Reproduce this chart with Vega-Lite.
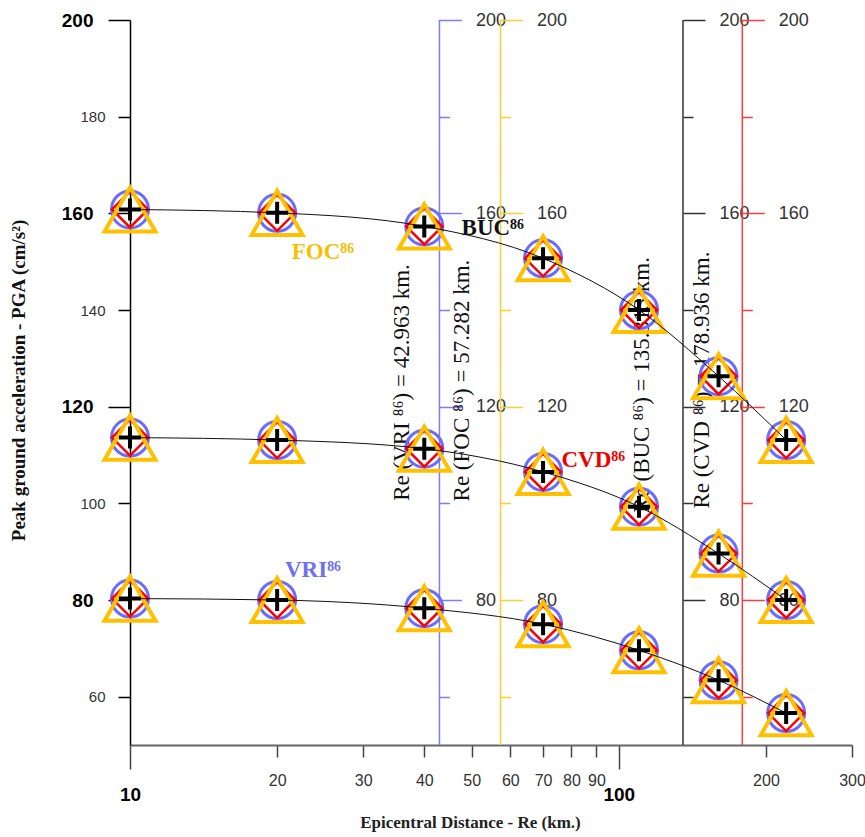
{
  "$schema": "https://vega.github.io/schema/vega-lite/v6.json",
  "width": 722,
  "height": 725,
  "autosize": {"type": "none"},
  "padding": {"left": 130, "top": 20, "right": 13, "bottom": 92},
  "background": "white",
  "config": {
    "view": {"stroke": null},
    "axis": {"grid": false, "labelFont": "Liberation Sans", "titleFont": "Liberation Serif"}
  },
  "datasets": {
    "pts": [
      {"curve": "A", "re": 10, "pga": 160.8},
      {"curve": "A", "re": 20, "pga": 160.1},
      {"curve": "A", "re": 40, "pga": 157.3},
      {"curve": "A", "re": 70, "pga": 150.7},
      {"curve": "A", "re": 110, "pga": 140.0},
      {"curve": "A", "re": 160, "pga": 126.3},
      {"curve": "A", "re": 220, "pga": 113.1},
      {"curve": "B", "re": 10, "pga": 113.6},
      {"curve": "B", "re": 20, "pga": 113.1},
      {"curve": "B", "re": 40, "pga": 111.3},
      {"curve": "B", "re": 70, "pga": 106.5},
      {"curve": "B", "re": 110, "pga": 99.3},
      {"curve": "B", "re": 160, "pga": 89.6},
      {"curve": "B", "re": 220, "pga": 80.0},
      {"curve": "C", "re": 10, "pga": 80.3},
      {"curve": "C", "re": 20, "pga": 80.0},
      {"curve": "C", "re": 40, "pga": 78.3},
      {"curve": "C", "re": 70, "pga": 75.0},
      {"curve": "C", "re": 110, "pga": 69.6},
      {"curve": "C", "re": 160, "pga": 63.4},
      {"curve": "C", "re": 220, "pga": 56.6}
    ],
    "stations": [
      {"station": "VRI", "re": 42.963},
      {"station": "FOC", "re": 57.282},
      {"station": "BUC", "re": 135.313},
      {"station": "CVD", "re": 178.936}
    ],
    "notes": [
      {"label": "Re (VRI ⁸⁶) = 42.963 km.", "re": 36.0, "pga": 125.0},
      {"label": "Re (FOC ⁸⁶) = 57.282 km.", "re": 47.75, "pga": 125.4},
      {"label": "Re (BUC ⁸⁶) = 135.313 km.", "re": 111.4, "pga": 124.5},
      {"label": "Re (CVD ⁸⁶) = 178.936 km.", "re": 147.8, "pga": 125.5}
    ],
    "tags": [
      {"label": "FOC⁸⁶", "station": "FOC", "re": 21.42, "pga": 152.1},
      {"label": "BUC⁸⁶", "station": "BUC", "re": 47.68, "pga": 157.0},
      {"label": "CVD⁸⁶", "station": "CVD", "re": 76.35, "pga": 109.0},
      {"label": "VRI⁸⁶", "station": "VRI", "re": 20.75, "pga": 86.2}
    ]
  },
  "layer": [
    {
      "data": {"name": "stations"},
      "transform": [{"filter": "datum.station == 'VRI'"}],
      "mark": {"type": "rule", "stroke": "#7b7bff", "strokeWidth": 1.5},
      "encoding": {
        "x": {"field": "re", "type": "quantitative", "scale": {"type": "log", "domain": [10, 300], "nice": false}, "axis": null},
        "y": {"datum": 50, "type": "quantitative", "scale": {"domain": [50, 200], "nice": false, "zero": false},
          "axis": {"orient": "right", "offset": -412.55, "title": null, "domain": false, "values": [60, 80, 100, 120, 140, 160, 180, 200],
            "tickColor": "#7b7bff", "tickWidth": 1.5,
            "tickSize": {"condition": {"test": "datum.value % 40 == 0", "value": 22}, "value": 10},
            "labelExpr": "datum.value % 40 == 0 ? datum.label : ''", "labelFontSize": 18, "labelColor": "#333", "labelPadding": 14}},
        "y2": {"datum": 200}
      }
    },
    {
      "data": {"name": "stations"},
      "transform": [{"filter": "datum.station == 'FOC'"}],
      "mark": {"type": "rule", "stroke": "#ffcc33", "strokeWidth": 1.5},
      "encoding": {
        "x": {"field": "re", "type": "quantitative", "scale": {"type": "log", "domain": [10, 300], "nice": false}, "axis": null},
        "y": {"datum": 50, "type": "quantitative", "scale": {"domain": [50, 200], "nice": false, "zero": false},
          "axis": {"orient": "right", "offset": -351.5, "title": null, "domain": false, "values": [60, 80, 100, 120, 140, 160, 180, 200],
            "tickColor": "#ffcc33", "tickWidth": 1.5,
            "tickSize": {"condition": {"test": "datum.value % 40 == 0", "value": 22}, "value": 10},
            "labelExpr": "datum.value % 40 == 0 ? datum.label : ''", "labelFontSize": 18, "labelColor": "#333", "labelPadding": 14}},
        "y2": {"datum": 200}
      }
    },
    {
      "data": {"name": "stations"},
      "transform": [{"filter": "datum.station == 'BUC'"}],
      "mark": {"type": "rule", "stroke": "#333333", "strokeWidth": 1.5},
      "encoding": {
        "x": {"field": "re", "type": "quantitative", "scale": {"type": "log", "domain": [10, 300], "nice": false}, "axis": null},
        "y": {"datum": 50, "type": "quantitative", "scale": {"domain": [50, 200], "nice": false, "zero": false},
          "axis": {"orient": "right", "offset": -169.0, "title": null, "domain": false, "values": [60, 80, 100, 120, 140, 160, 180, 200],
            "tickColor": "#333333", "tickWidth": 1.5,
            "tickSize": {"condition": {"test": "datum.value % 40 == 0", "value": 22}, "value": 10},
            "labelExpr": "datum.value % 40 == 0 ? datum.label : ''", "labelFontSize": 18, "labelColor": "#333", "labelPadding": 14}},
        "y2": {"datum": 200}
      }
    },
    {
      "data": {"name": "stations"},
      "transform": [{"filter": "datum.station == 'CVD'"}],
      "mark": {"type": "rule", "stroke": "#ff3b3b", "strokeWidth": 1.5},
      "encoding": {
        "x": {"field": "re", "type": "quantitative", "scale": {"type": "log", "domain": [10, 300], "nice": false}, "axis": null},
        "y": {"datum": 50, "type": "quantitative", "scale": {"domain": [50, 200], "nice": false, "zero": false},
          "axis": {"orient": "right", "offset": -109.7, "title": null, "domain": false, "values": [60, 80, 100, 120, 140, 160, 180, 200],
            "tickColor": "#ff3b3b", "tickWidth": 1.5,
            "tickSize": {"condition": {"test": "datum.value % 40 == 0", "value": 22}, "value": 10},
            "labelExpr": "datum.value % 40 == 0 ? datum.label : ''", "labelFontSize": 18, "labelColor": "#333", "labelPadding": 14}},
        "y2": {"datum": 200}
      }
    },
    {
      "data": {"name": "notes"},
      "mark": {"type": "text", "angle": 270, "align": "center", "baseline": "middle", "font": "Liberation Serif", "fontSize": 23, "color": "#111"},
      "encoding": {
        "x": {"field": "re", "type": "quantitative", "scale": {"type": "log", "domain": [10, 300], "nice": false}, "axis": null},
        "y": {"field": "pga", "type": "quantitative", "scale": {"domain": [50, 200], "nice": false, "zero": false}, "axis": null},
        "text": {"field": "label"}
      }
    },
    {
      "data": {"name": "pts"},
      "mark": {"type": "point", "shape": "circle", "filled": false, "size": 1369, "stroke": "#6b6bff", "strokeWidth": 3, "opacity": 1},
      "encoding": {
        "x": {"field": "re", "type": "quantitative", "scale": {"type": "log", "domain": [10, 300], "nice": false}, "axis": null},
        "y": {"field": "pga", "type": "quantitative", "scale": {"domain": [50, 200], "nice": false, "zero": false}, "axis": null}
      }
    },
    {
      "data": {"name": "pts"},
      "mark": {"type": "point", "shape": "diamond", "filled": false, "size": 1296, "stroke": "#ff0000", "strokeWidth": 2.5, "opacity": 1},
      "encoding": {
        "x": {"field": "re", "type": "quantitative", "scale": {"type": "log", "domain": [10, 300], "nice": false}, "axis": null},
        "y": {"field": "pga", "type": "quantitative", "scale": {"domain": [50, 200], "nice": false, "zero": false}, "axis": null}
      }
    },
    {
      "data": {"name": "pts"},
      "mark": {"type": "point", "shape": "triangle-up", "filled": false, "size": 2601, "stroke": "#ffc000", "strokeWidth": 4, "opacity": 1},
      "encoding": {
        "x": {"field": "re", "type": "quantitative", "scale": {"type": "log", "domain": [10, 300], "nice": false}, "axis": null},
        "y": {"field": "pga", "type": "quantitative", "scale": {"domain": [50, 200], "nice": false, "zero": false}, "axis": null}
      }
    },
    {
      "data": {"name": "pts"},
      "mark": {"type": "line", "color": "#111", "strokeWidth": 1, "interpolate": "monotone"},
      "encoding": {
        "detail": {"field": "curve"},
        "x": {"field": "re", "type": "quantitative", "scale": {"type": "log", "domain": [10, 300], "nice": false},
          "axis": {
            "values": [10, 20, 30, 40, 50, 60, 70, 80, 90, 100, 200, 300],
            "format": "d",
            "title": "Epicentral Distance - Re (km.)",
            "labelFlush": false, "labelOverlap": false,
            "labelFontSize": {"condition": {"test": "datum.value == 10 || datum.value == 100", "value": 19}, "value": 16},
            "labelFontWeight": {"condition": {"test": "datum.value == 10 || datum.value == 100", "value": "bold"}, "value": "normal"},
            "labelColor": {"condition": {"test": "datum.value == 10 || datum.value == 100", "value": "#000"}, "value": "#333"},
            "tickSize": {"condition": {"test": "datum.value == 10 || datum.value == 100", "value": 24}, "value": 12},
            "labelPadding": {"condition": {"test": "datum.value == 10 || datum.value == 100", "value": 16}, "value": 15},
            "domainColor": "#666", "domainWidth": 2, "tickColor": "#444", "tickWidth": 1.5,
            "titleFont": "Liberation Serif", "titleFontSize": 17, "titleFontWeight": "bold", "titleColor": "#222",
            "titleX": 340, "titleY": 77, "titleBaseline": "middle", "titleAlign": "center"
          }},
        "y": {"field": "pga", "type": "quantitative", "scale": {"domain": [50, 200], "nice": false, "zero": false},
          "axis": {
            "values": [60, 80, 100, 120, 140, 160, 180, 200],
            "title": "Peak ground acceleration - PGA (cm/s²)",
            "labelFontSize": {"condition": {"test": "datum.value % 40 == 0", "value": 19}, "value": 15},
            "labelFontWeight": {"condition": {"test": "datum.value % 40 == 0", "value": "bold"}, "value": "normal"},
            "labelColor": {"condition": {"test": "datum.value % 40 == 0", "value": "#000"}, "value": "#333"},
            "tickSize": {"condition": {"test": "datum.value % 40 == 0", "value": 22}, "value": 12},
            "labelPadding": {"condition": {"test": "datum.value % 40 == 0", "value": 15}, "value": 13},
            "domainColor": "#000", "domainWidth": 1.5, "tickColor": "#000", "tickWidth": 1.5,
            "titleFont": "Liberation Serif", "titleFontSize": 19, "titleFontWeight": "bold", "titleColor": "#111",
            "titleX": -112, "titleY": 360, "titleAngle": 270, "titleBaseline": "middle", "titleAlign": "center"
          }}
      }
    },
    {
      "data": {"name": "pts"},
      "mark": {"type": "point", "shape": "M-1,0L1,0M0,-1L0,1", "filled": false, "size": 484, "stroke": "#000", "strokeWidth": 4, "opacity": 1},
      "encoding": {
        "x": {"field": "re", "type": "quantitative", "scale": {"type": "log", "domain": [10, 300], "nice": false}, "axis": null},
        "y": {"field": "pga", "type": "quantitative", "scale": {"domain": [50, 200], "nice": false, "zero": false}, "axis": null}
      }
    },
    {
      "data": {"name": "tags"},
      "mark": {"type": "text", "align": "left", "baseline": "middle", "font": "Liberation Serif", "fontSize": 23, "fontWeight": "bold"},
      "encoding": {
        "x": {"field": "re", "type": "quantitative", "scale": {"type": "log", "domain": [10, 300], "nice": false}, "axis": null},
        "y": {"field": "pga", "type": "quantitative", "scale": {"domain": [50, 200], "nice": false, "zero": false}, "axis": null},
        "text": {"field": "label"},
        "color": {"field": "station", "type": "nominal", "scale": {"domain": ["FOC", "BUC", "CVD", "VRI"], "range": ["#f5c000", "#111111", "#ee0000", "#7070f0"]}, "legend": null}
      }
    }
  ],
  "resolve": {"axis": {"y": "independent", "x": "independent"}}
}
